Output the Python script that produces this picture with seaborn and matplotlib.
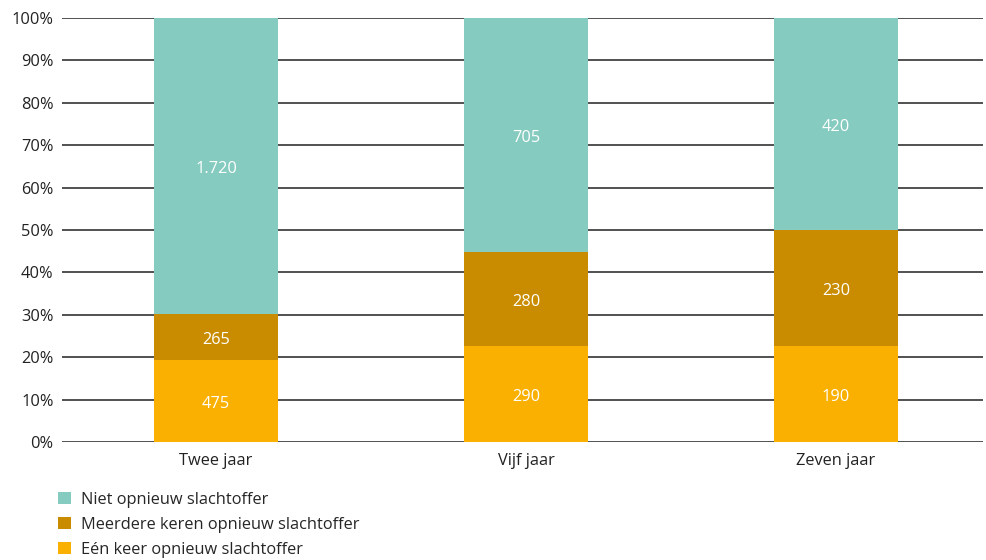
import seaborn as sns
import matplotlib.pyplot as plt
import pandas as pd
from matplotlib.patches import Patch

categories = ["Twee jaar", "Vijf jaar", "Zeven jaar"]
een_keer = [475, 290, 190]
meerdere = [265, 280, 230]
niet = [1720, 705, 420]

series = [
    "Niet opnieuw slachtoffer",
    "Meerdere keren opnieuw slachtoffer",
    "Eén keer opnieuw slachtoffer",
]
colors = ["#85CBBF", "#C98C00", "#F9B000"]

df = pd.DataFrame({"cat": categories, "een": een_keer, "meer": meerdere, "niet": niet})
df["total"] = df["een"] + df["meer"] + df["niet"]
df["p_een"] = df["een"] / df["total"] * 100
df["p_meer"] = df["meer"] / df["total"] * 100
df["p_niet"] = df["niet"] / df["total"] * 100
df["top_een"] = df["p_een"]
df["top_meer"] = df["p_een"] + df["p_meer"]
df["top_niet"] = df["top_meer"] + df["p_niet"]

sns.set_style("white")
plt.rcParams["font.family"] = ["Open Sans", "DejaVu Sans"]

fig = plt.figure(figsize=(9.87, 5.6), dpi=100)
ax = fig.add_axes([62 / 987, 1 - 442 / 560, (983 - 62) / 987, (442 - 18) / 560])

# cumulative layers, drawn from the top layer down
for col, color in zip(["top_niet", "top_meer", "top_een"], colors):
    sns.barplot(data=df, x="cat", y=col, color=color, width=0.4,
                saturation=1, edgecolor="none", linewidth=0, ax=ax, zorder=2)

ax.set_ylim(0, 100)
ax.set_xlim(-0.497, 2.474)
ax.set_yticks(range(0, 101, 10))
ax.set_yticklabels([f"{v}%" for v in range(0, 101, 10)])
ax.yaxis.grid(True, color="#333333", linewidth=1.2, zorder=0)
ax.set_axisbelow(True)
for s in ax.spines.values():
    s.set_visible(False)
ax.set_xlabel("")
ax.set_ylabel("")
ax.tick_params(axis="both", length=0, labelsize=11.8, colors="#222222")
ax.tick_params(axis="y", pad=6)
ax.tick_params(axis="x", pad=8)


def fmt(v):
    return f"{v:,}".replace(",", ".")


for i, row in df.iterrows():
    mids = [
        (row["top_een"] / 2, row["een"]),
        (row["top_een"] + row["p_meer"] / 2, row["meer"]),
        (row["top_meer"] + row["p_niet"] / 2, row["niet"]),
    ]
    for y, v in mids:
        ax.annotate(fmt(v), (i, y), xytext=(0, -2.2), textcoords="offset points",
                    ha="center", va="center", color="white",
                    fontsize=11.8, zorder=3)

handles = [Patch(facecolor=c, edgecolor="none") for c in colors]
fig.legend(handles, series, loc="upper left", bbox_to_anchor=(0.052, 0.134),
           frameon=False, fontsize=11.8, handlelength=0.8, handleheight=0.8,
           handletextpad=0.6, labelspacing=0.55, borderaxespad=0)

plt.savefig("out.png", dpi=100)
plt.close()
